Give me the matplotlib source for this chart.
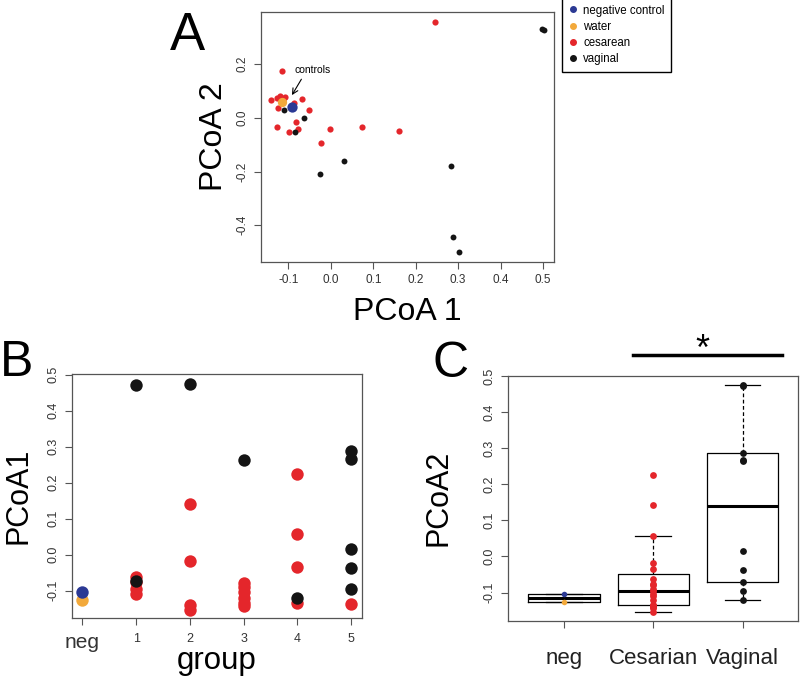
import numpy as np
import matplotlib
matplotlib.use('Agg')
import matplotlib.pyplot as plt
from matplotlib.lines import Line2D

plt.rcParams['font.family'] = ['Liberation Sans', 'DejaVu Sans']
plt.rcParams['axes.unicode_minus'] = False

# ---------------------------------------------------------------------------
# Colours
# ---------------------------------------------------------------------------
RED    = '#e4262b'
BLACK  = '#141414'
BLUE   = '#2b3994'
ORANGE = '#f2a93b'
FRAME  = '#555555'
TXT    = '#333333'

# ---------------------------------------------------------------------------
# Panel A: PCoA scores
# ---------------------------------------------------------------------------
a_ces_x = [0.245, -0.115, -0.140, -0.128, -0.120, -0.108, -0.069, -0.051, -0.125, -0.086,
           -0.126, -0.082, -0.078, -0.098, -0.022, -0.002, 0.074, 0.160, -0.113]
a_ces_y = [0.359, 0.175, 0.065, 0.073, 0.080, 0.077, 0.070, 0.030, 0.036, 0.055,
           -0.034, -0.017, -0.042, -0.053, -0.092, -0.042, -0.034, -0.050, 0.068]
a_vag_x = [-0.110, -0.085, -0.063, 0.030, -0.025, 0.284, 0.288, 0.303, 0.497, 0.503]
a_vag_y = [0.030, -0.052, 0.000, -0.159, -0.208, -0.180, -0.444, -0.500, 0.330, 0.327]
a_water = (-0.115, 0.061)
a_neg   = (-0.092, 0.040)

a_xticks = [-0.1, 0.0, 0.1, 0.2, 0.3, 0.4, 0.5]
a_yticks = [-0.4, -0.2, 0.0, 0.2]

# ---------------------------------------------------------------------------
# Panel B / C: values by group
# ---------------------------------------------------------------------------
groups      = ['neg', '1', '2', '3', '4', '5']
neg_blue    = [-0.104]
neg_orange  = [-0.127]
ces_by_grp  = {1: [-0.062, -0.075, -0.095, -0.110],
               2: [0.142, -0.017, -0.139, -0.153],
               3: [-0.078, -0.090, -0.105, -0.120, -0.135, -0.142],
               4: [0.225, 0.058, -0.034, -0.134],
               5: [-0.136]}
vag_by_grp  = {1: [0.472, -0.072],
               2: [0.475],
               3: [0.264],
               4: [-0.120],
               5: [0.287, 0.267, 0.016, -0.037, -0.095]}

c_labels = ['neg', 'Cesarian', 'Vaginal']


def fivenum_stats(vals, label):
    """Tukey hinges + 1.5 IQR whiskers, like R's boxplot."""
    v = np.sort(np.asarray(vals, dtype=float))
    n = len(v)
    n4 = np.floor((n + 3) / 2) / 2
    d = np.array([1, n4, (n + 1) / 2, n + 1 - n4, n]) - 1
    q = 0.5 * (v[np.floor(d).astype(int)] + v[np.ceil(d).astype(int)])
    iqr = q[3] - q[1]
    lo = v[v >= q[1] - 1.5 * iqr].min()
    hi = v[v <= q[3] + 1.5 * iqr].max()
    return dict(med=q[2], q1=q[1], q3=q[3], whislo=lo, whishi=hi, label=label)


def style_axes(ax):
    for sp in ax.spines.values():
        sp.set_color(FRAME)
        sp.set_linewidth(0.9)
    ax.tick_params(direction='out', length=5, width=0.8, color=FRAME,
                   labelcolor=TXT, labelsize=9)
    plt.setp(ax.get_yticklabels(), rotation=90, va='center')


fig = plt.figure(figsize=(8, 6.76), dpi=100)

# ---------------------------------------------------------------------------
# A
# ---------------------------------------------------------------------------
axA = fig.add_axes([0.326, 0.6124, 0.366, 0.370])
axA.scatter(a_ces_x, a_ces_y, s=20, color=RED, lw=0, zorder=2)
axA.scatter(a_vag_x, a_vag_y, s=18, color=BLACK, lw=0, zorder=3)
axA.scatter([a_water[0]], [a_water[1]], s=45, color=ORANGE, lw=0, zorder=4)
axA.scatter([a_neg[0]], [a_neg[1]], s=55, color=BLUE, lw=0, zorder=5)
axA.set_xlim(-0.165, 0.525)
axA.set_ylim(-0.537, 0.395)
axA.set_xticks(a_xticks)
axA.set_yticks(a_yticks)
axA.set_xticklabels([f'{t:.1f}' for t in a_xticks])
axA.set_yticklabels([f'{t:.1f}' for t in a_yticks])
style_axes(axA)
axA.tick_params(labelsize=8.5)
axA.set_xlabel('PCoA 1', fontsize=23, labelpad=8)
axA.set_ylabel('PCoA 2', fontsize=23, labelpad=6)
axA.text(-0.043, 0.18, 'controls', fontsize=7.5, ha='center', va='center')
axA.annotate('', xy=(-0.095, 0.076), xytext=(-0.066, 0.153),
             arrowprops=dict(arrowstyle='->', color='black', lw=0.8))

handles = [Line2D([], [], ls='', marker='o', ms=4, color=c, mec=c)
           for c in (BLUE, ORANGE, RED, BLACK)]
fig.legend(handles, ['negative control', 'water', 'cesarean', 'vaginal'],
           loc='lower left', bbox_to_anchor=(0.702, 1 - 72 / 676), fontsize=8.3,
           frameon=True, fancybox=False, edgecolor='black', framealpha=1,
           handlelength=0.8, handletextpad=0.5, labelspacing=0.37,
           borderpad=0.58, borderaxespad=0)

# ---------------------------------------------------------------------------
# B
# ---------------------------------------------------------------------------
axB = fig.add_axes([0.0896, 0.0858, 0.3625, 0.361])
axB.scatter([0] * len(neg_orange), neg_orange, s=80, color=ORANGE, lw=0, zorder=2)
axB.scatter([0] * len(neg_blue), neg_blue, s=80, color=BLUE, lw=0, zorder=3)
for g, vals in ces_by_grp.items():
    axB.scatter([g] * len(vals), vals, s=80, color=RED, lw=0, zorder=2)
for g, vals in vag_by_grp.items():
    axB.scatter([g] * len(vals), vals, s=80, color=BLACK, lw=0, zorder=3)
axB.set_xlim(-0.2, 5.2)
axB.set_ylim(-0.176, 0.502)
axB.set_xticks(range(len(groups)))
axB.set_xticklabels(groups)
b_yticks = [-0.1, 0.0, 0.1, 0.2, 0.3, 0.4, 0.5]
axB.set_yticks(b_yticks)
axB.set_yticklabels([f'{t:.1f}' for t in b_yticks])
style_axes(axB)
axB.tick_params(axis='x', pad=6)
axB.get_xticklabels()[0].set_fontsize(15)
axB.set_xlabel('group', fontsize=22.5, labelpad=-4.5)
axB.set_ylabel('PCoA1', fontsize=22, labelpad=10)

# ---------------------------------------------------------------------------
# C
# ---------------------------------------------------------------------------
ces_all = [v for vals in ces_by_grp.values() for v in vals]
vag_all = [v for vals in vag_by_grp.values() for v in vals]
neg_all = neg_blue + neg_orange

axC = fig.add_axes([0.6346, 0.0818, 0.3629, 0.362])
stats = [fivenum_stats(d, l) for d, l in zip([neg_all, ces_all, vag_all], c_labels)]
axC.bxp(stats, positions=[1, 2, 3], widths=0.8, showfliers=False,
        boxprops=dict(color='black', lw=0.9),
        whiskerprops=dict(color='black', lw=0.9, ls=(0, (3, 2))),
        capprops=dict(color='black', lw=0.9),
        medianprops=dict(color='black', lw=2.2),
        capwidths=0.4)
axC.scatter([1] * len(neg_blue), neg_blue, s=16, color=BLUE, lw=0, zorder=4)
axC.scatter([1] * len(neg_orange), neg_orange, s=16, color=ORANGE, lw=0, zorder=4)
axC.scatter([2] * len(ces_all), ces_all, s=24, color=RED, lw=0, zorder=4)
axC.scatter([3] * len(vag_all), vag_all, s=24, color=BLACK, lw=0, zorder=4)
axC.set_xlim(0.37, 3.62)
axC.set_ylim(-0.178, 0.50)
axC.set_yticks(b_yticks)
axC.set_yticklabels([f'{t:.1f}' for t in b_yticks])
axC.set_xticks([1, 2, 3])
axC.set_xticklabels(c_labels)
style_axes(axC)
axC.tick_params(axis='x', labelsize=16, pad=14.5, labelcolor='#222222')
axC.set_ylabel('PCoA2', fontsize=22, labelpad=22)
axC.plot([1.77, 3.44], [0.557, 0.557], color='black', lw=2.5, clip_on=False)
axC.text(2.55, 0.572, '*', fontsize=26, ha='center', va='center')

# ---------------------------------------------------------------------------
# Panel letters
# ---------------------------------------------------------------------------
fig.text(0.212, 1 - 50 / 676, 'A', fontsize=38, va='baseline')
fig.text(0.0, 1 - 376 / 676, 'B', fontsize=36, va='baseline')
fig.text(0.541, 1 - 377 / 676, 'C', fontsize=36, va='baseline')

fig.savefig('out.png', dpi=100)
